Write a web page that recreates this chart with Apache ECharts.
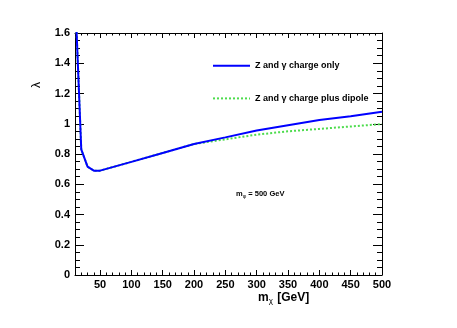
<!DOCTYPE html>
<html>
<head>
<meta charset="utf-8">
<script src="https://cdn.jsdelivr.net/npm/echarts@6/dist/echarts.min.js"></script>
<style>
  html, body { margin: 0; padding: 0; background: #fff; }
  #chart { width: 457px; height: 328px; }
</style>
</head>
<body>
<div id="chart"></div>
<script>
// masses (GeV) and lambda values
var mChi = [10, 20, 30, 40, 50, 100, 150, 200, 250, 300, 350, 400, 450, 500];
var chargeOnly = [1.87, 0.83, 0.716, 0.69, 0.69, 0.748, 0.807, 0.866, 0.91, 0.955, 0.99, 1.025, 1.05, 1.08];
var plusDipole = [1.87, 0.83, 0.716, 0.69, 0.69, 0.748, 0.807, 0.866, 0.897, 0.928, 0.95, 0.966, 0.982, 0.998];
var xMajor = [50, 100, 150, 200, 250, 300, 350, 400, 450, 500];
var xMinor = [10, 20, 30, 40, 60, 70, 80, 90, 110, 120, 130, 140, 160, 170, 180, 190, 210, 220, 230, 240,
  260, 270, 280, 290, 310, 320, 330, 340, 360, 370, 380, 390, 410, 420, 430, 440, 460, 470, 480, 490];
var seriesNames = ['Z and \u03b3 charge only', 'Z and \u03b3 charge plus dipole'];

function pairs(xs, ys) {
  var out = [];
  for (var i = 0; i < xs.length; i++) out.push([xs[i], ys[i]]);
  return out;
}

var FONT = '"Liberation Sans", Arial, sans-serif';
var chart = echarts.init(document.getElementById('chart'), null, { renderer: 'canvas' });

//一根x轴带标签和长刻度，另一根只画短刻度
function xAx(pos, ticks, len, line, labels) {
  return {
    type: 'value', position: pos, min: 10, max: 500,
    axisLine: { show: line, lineStyle: { color: '#000', width: 1 } },
    splitLine: { show: false },
    axisTick: { show: true, inside: true, length: len, customValues: ticks, lineStyle: { color: '#000' } },
    axisLabel: labels ? {
      show: true, customValues: xMajor, margin: 4,
      fontFamily: FONT, fontWeight: 'bold', fontSize: 11, color: '#000'
    } : { show: false }
  };
}
function yAx(pos, labels) {
  return {
    type: 'value', position: pos, min: 0, max: 1.6, interval: 0.2,
    axisLine: { show: true, lineStyle: { color: '#000', width: 1 } },
    splitLine: { show: false },
    axisTick: { show: true, inside: true, length: 9, lineStyle: { color: '#000' } },
    minorTick: { show: true, splitNumber: 4, length: 5, lineStyle: { color: '#000' } },
    axisLabel: labels ? {
      show: true, margin: 5, fontFamily: FONT, fontWeight: 'bold', fontSize: 11, color: '#000',
      formatter: function (v) { return String(Math.round(v * 10) / 10); }
    } : { show: false }
  };
}

var option = {
  animation: false,
  grid: { left: 75, right: 75, top: 33, bottom: 53 },
  xAxis: [
    xAx('bottom', xMajor, 5, true, true),
    xAx('bottom', xMinor, 2.5, false, false),
    xAx('top', xMajor, 5, true, false),
    xAx('top', xMinor, 2.5, false, false)
  ],
  yAxis: [yAx('left', true), yAx('right', false)],
  legend: {
    orient: 'vertical', left: 212, top: 61, itemGap: 23, padding: 0,
    itemWidth: 37, itemHeight: 12,
    data: seriesNames,
    itemStyle: { opacity: 0 },
    textStyle: { fontFamily: FONT, fontWeight: 'bold', fontSize: 9, color: '#000' }
  },
  series: [
    {
      name: seriesNames[1], type: 'line', xAxisIndex: 0, yAxisIndex: 0,
      data: pairs(mChi, plusDipole), symbol: 'none', z: 2,
      lineStyle: { color: '#4ddc4d', width: 2, type: [2, 2] },
      itemStyle: { color: '#4ddc4d' }
    },
    {
      name: seriesNames[0], type: 'line', xAxisIndex: 0, yAxisIndex: 0,
      data: pairs(mChi, chargeOnly), symbol: 'none', z: 3,
      lineStyle: { color: '#0000ff', width: 2 },
      itemStyle: { color: '#0000ff' }
    }
  ],
  graphic: [
    {
      type: 'text', left: 236, top: 190,
      style: {
        text: '{m|m}{s|\u03c6}{m| = 500 GeV}',
        rich: {
          m: { fontFamily: FONT, fontWeight: 'bold', fontSize: 7.5, fill: '#000' },
          s: { fontFamily: FONT, fontSize: 5.5, fill: '#000', padding: [4, 0, 0, 0] }
        }
      }
    },
    {
      type: 'text', x: 258, y: 291,
      style: {
        text: '{m|m}{s|\u03c7}{m| [GeV]}',
        rich: {
          m: { fontFamily: FONT, fontWeight: 'bold', fontSize: 12, fill: '#000' },
          s: { fontFamily: FONT, fontSize: 8, fill: '#000', padding: [6, 1, 0, 0] }
        }
      }
    },
    {
      type: 'text', x: 31, y: 88, rotation: Math.PI / 2,
      style: { text: '\u03bb', fontFamily: FONT, fontSize: 12, fill: '#000' }
    }
  ]
};
chart.setOption(option);
</script>
</body>
</html>
